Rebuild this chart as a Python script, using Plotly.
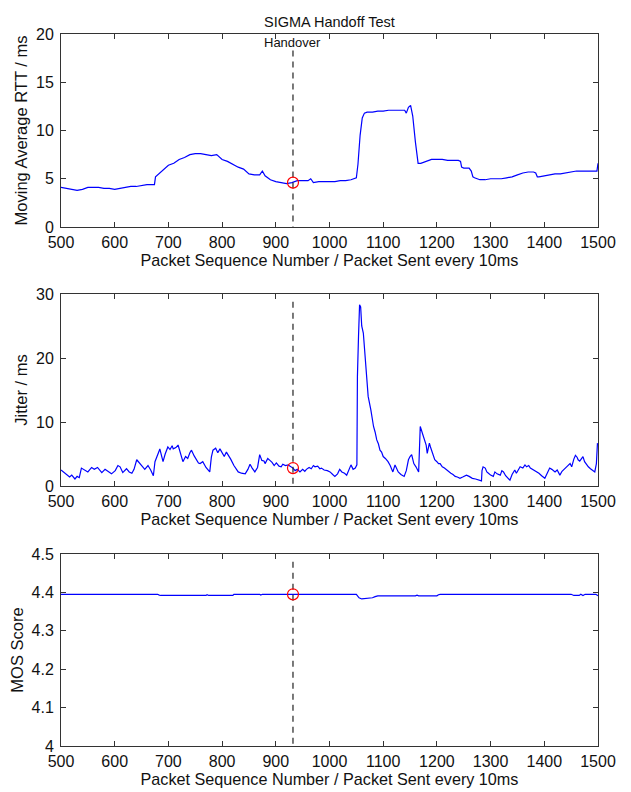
import plotly.graph_objects as go

# ---------------- data ----------------
rtt_x = [500, 510, 520, 530, 540, 550, 560, 570, 580, 590, 600, 610, 620, 630, 640, 650, 660, 670, 674, 676,
         680, 690, 700, 710, 720, 730, 740, 750, 760, 770, 780, 790, 800, 810, 820, 830, 840, 850, 860, 870,
         875, 880, 890, 900, 910, 920, 930, 940, 950, 960, 965, 970, 980, 990, 1000, 1010, 1020, 1030, 1040,
         1050, 1053, 1057, 1061, 1065, 1070, 1080, 1090, 1100, 1110, 1120, 1130, 1140, 1143, 1147, 1151, 1155,
         1160, 1165, 1170, 1180, 1190, 1200, 1210, 1220, 1230, 1240, 1244, 1246, 1250, 1260, 1264, 1267, 1270,
         1280, 1290, 1300, 1310, 1320, 1330, 1340, 1350, 1360, 1370, 1380, 1384, 1387, 1390, 1400, 1410, 1420,
         1430, 1440, 1450, 1460, 1470, 1480, 1490, 1498, 1500]
rtt_y = [4.1, 4.0, 3.9, 3.8, 3.9, 4.1, 4.1, 4.1, 4.0, 4.0, 3.9, 4.0, 4.1, 4.2, 4.2, 4.3, 4.4, 4.4, 4.4, 5.2,
         5.4, 5.9, 6.4, 6.6, 7.0, 7.2, 7.5, 7.6, 7.6, 7.5, 7.4, 7.5, 7.0, 6.8, 6.5, 6.2, 6.0, 5.5, 5.4, 5.4,
         5.8, 5.3, 4.9, 4.7, 4.6, 4.5, 4.6, 4.8, 4.8, 4.8, 5.0, 4.6, 4.7, 4.7, 4.7, 4.7, 4.8, 4.8, 4.9,
         5.1, 6.5, 9.5, 11.3, 11.8, 11.9, 11.9, 12.0, 12.0, 12.1, 12.1, 12.1, 12.1, 11.8, 12.4, 12.6, 11.5,
         8.8, 6.6, 6.6, 6.8, 7.0, 7.0, 7.0, 6.9, 6.9, 6.9, 6.8, 6.2, 6.1, 6.1, 5.8, 5.2, 5.1,
         4.9, 4.9, 5.0, 5.0, 5.0, 5.1, 5.2, 5.4, 5.6, 5.7, 5.7, 5.6, 5.2, 5.2, 5.3, 5.4, 5.5,
         5.5, 5.6, 5.7, 5.8, 5.8, 5.8, 5.8, 5.8, 6.6]

jit_x = [500, 504, 510, 516, 520, 526, 530, 534, 538, 544, 550, 557, 562, 568, 572, 576, 582, 588, 594, 601,
         606, 610, 615, 622, 627, 632, 636, 641, 646, 651, 656, 662, 667, 672, 675, 678, 682, 684, 688, 690,
         694, 699, 703, 707, 709, 714, 718, 722, 727, 732, 736, 740, 743, 748, 752, 756, 759, 764, 770, 777,
         780, 783, 788, 792, 796, 800, 804, 808, 811, 816, 822, 830, 836, 843, 848, 852, 856, 861, 866, 870,
         874, 878, 880, 885, 889, 893, 897, 901, 906, 910, 913, 918, 923, 928, 932, 936, 940, 945, 950, 954,
         957, 962, 966, 970, 973, 978, 982, 985, 990, 996, 1001, 1006, 1010, 1015, 1019, 1023, 1028, 1032,
         1036, 1040, 1044, 1048, 1051, 1052, 1054, 1056, 1058, 1060, 1063, 1066, 1069, 1072, 1077, 1080, 1082,
         1085, 1088, 1091, 1094, 1097, 1100, 1104, 1109, 1113, 1118, 1122, 1125, 1128, 1133, 1139, 1143, 1147,
         1150, 1153, 1155, 1157, 1161, 1166, 1169, 1171, 1173, 1176, 1178, 1180, 1182, 1184, 1186, 1188, 1190,
         1193, 1196, 1200, 1203, 1206, 1210, 1214, 1218, 1222, 1226, 1230, 1234, 1238, 1243, 1248, 1255, 1260,
         1266, 1272, 1278, 1283, 1284, 1286, 1290, 1293, 1296, 1300, 1305, 1308, 1312, 1318, 1321, 1324, 1328,
         1332, 1336, 1340, 1345, 1348, 1352, 1355, 1360, 1364, 1367, 1371, 1374, 1378, 1382, 1386, 1390, 1395,
         1401, 1405, 1410, 1414, 1417, 1420, 1424, 1429, 1433, 1436, 1439, 1443, 1448, 1451, 1455, 1458, 1461,
         1463, 1466, 1469, 1472, 1475, 1479, 1482, 1486, 1490, 1494, 1497, 1499]
jit_y = [2.5, 2.2, 1.8, 1.4, 1.7, 1.1, 1.5, 1.3, 2.8, 2.5, 2.2, 2.9, 2.6, 2.9, 2.4, 2.1, 2.6, 2.3, 1.9, 2.4,
         3.2, 3.0, 2.1, 2.7, 2.2, 2.0, 2.6, 4.1, 3.5, 3.1, 2.6, 3.2, 2.5, 1.6, 3.8, 4.6, 5.3, 5.8, 4.5, 3.8,
         5.0, 6.1, 5.7, 6.3, 5.8, 6.0, 6.4, 5.4, 3.8, 4.6, 4.3, 5.2, 5.6, 4.7, 4.2, 3.6, 3.5, 3.8, 2.9, 2.2,
         4.5, 5.6, 5.9, 5.2, 5.8, 5.1, 4.6, 5.3, 4.9, 4.2, 3.2, 2.2, 2.0, 1.9, 2.6, 3.4, 2.8, 2.2, 2.9, 4.9,
         4.0, 3.9, 3.5, 4.3, 4.0, 3.7, 3.2, 3.6, 3.1, 3.0, 3.4, 3.2, 3.3, 3.0, 2.8, 2.4, 2.6, 2.2, 2.6, 2.3,
         2.6, 2.9, 2.7, 3.2, 3.0, 3.1, 2.7, 2.8, 2.5, 2.4, 2.2, 1.8, 1.5, 1.9, 2.6, 2.2, 2.0, 1.7,
         2.4, 3.3, 2.6, 2.8, 3.3, 17.1, 23.3, 28.3, 28.0, 25.0, 23.9, 20.2, 17.1, 14.0, 11.9, 10.2, 9.3,
         8.4, 7.2, 6.6, 5.6, 5.3, 4.6, 4.3, 3.8, 3.2, 2.2, 3.3, 2.6, 2.2, 1.8, 1.5, 2.4, 4.1,
         4.6, 4.9, 4.2, 3.5, 3.0, 2.2, 9.3, 8.8, 8.2, 7.5, 6.9, 6.4, 5.1, 6.3, 6.7, 6.1, 5.6,
         4.8, 4.1, 3.8, 3.5, 3.5, 3.0, 2.8, 2.5, 2.3, 2.0, 1.8, 1.5, 1.4, 1.2, 1.4, 1.7, 1.5,
         1.2, 1.1, 1.0, 0.8, 2.4, 3.0, 2.8, 2.2, 2.0, 1.7, 1.5, 2.2, 1.9, 1.7, 2.4, 2.2, 1.6,
         1.3, 0.9, 1.8, 2.5, 2.0, 2.6, 3.0, 2.8, 3.3, 3.0, 3.2, 2.8, 2.6, 2.5, 2.2, 2.0, 1.6,
         1.2, 1.9, 2.8, 2.6, 2.4, 2.2, 2.5, 1.7, 2.3, 2.5, 2.8, 3.1, 3.5, 3.0, 4.2, 4.8, 4.5,
         4.1, 3.9, 4.3, 4.6, 3.8, 3.3, 3.0, 2.7, 2.4, 2.2, 3.5, 6.7]

mos_x = [500, 680, 683, 686, 770, 772, 775, 820, 822, 870, 872, 875, 1050, 1055, 1060, 1070, 1080, 1085,
         1090, 1160, 1163, 1166, 1200, 1203, 1206, 1450, 1455, 1465, 1468, 1472, 1476, 1480, 1496, 1500]
mos_y = [4.395, 4.395, 4.393, 4.392, 4.392, 4.394, 4.392, 4.392, 4.395, 4.395, 4.393, 4.395, 4.395, 4.386,
         4.383, 4.384, 4.386, 4.389, 4.391, 4.391, 4.393, 4.391, 4.391, 4.394, 4.395, 4.395, 4.392, 4.392,
         4.395, 4.392, 4.395, 4.395, 4.395, 4.391]

handover_x = 932
handover_rtt = 4.6
handover_jit = 2.8
handover_mos = 4.395

title_text = "SIGMA Handoff Test"
x_title = "Packet Sequence Number / Packet Sent every 10ms"
y_titles = ["Moving Average RTT / ms", "Jitter / ms", "MOS Score"]
y_ranges = [[0, 20], [0, 30], [4, 4.5]]
y_dticks = [5, 10, 0.1]
dash_tops = [18.3, 28.8, 4.48]

# ---------------- figure ----------------
# the page body has an 8px margin, so the figure is 8px smaller and all pixel positions shift by 8
OFF = 8
W, H = 631 - OFF, 792 - OFF
FONT = "Liberation Sans, Arial, sans-serif"
BLUE = "#0000ff"
TXT = "#111111"

fig = go.Figure()
series = [(rtt_x, rtt_y, handover_rtt), (jit_x, jit_y, handover_jit), (mos_x, mos_y, handover_mos)]
for i, (xs, ys, hv) in enumerate(series):
    sfx = "" if i == 0 else str(i + 1)
    fig.add_trace(go.Scatter(x=xs, y=ys, mode="lines", line=dict(color=BLUE, width=1.2),
                             xaxis="x" + sfx, yaxis="y" + sfx, showlegend=False))
    fig.add_trace(go.Scatter(x=[handover_x, handover_x], y=[dash_tops[i], y_ranges[i][0]], mode="lines",
                             line=dict(color="#222222", width=1.2, dash="6px,5px"),
                             xaxis="x" + sfx, yaxis="y" + sfx, showlegend=False))
    fig.add_trace(go.Scatter(x=[handover_x], y=[hv], mode="markers",
                             marker=dict(symbol="circle-open", color="red", size=11, line=dict(width=1.2)),
                             xaxis="x" + sfx, yaxis="y" + sfx, showlegend=False))

# pixel boxes (in the screenshot) of the three plot areas (top, bottom)
boxes = [(34, 227), (294, 486), (554, 746)]
L, R = 61, 598

axis_common = dict(showline=True, linecolor="#333333", linewidth=1, mirror="ticks", ticks="inside",
                   ticklen=5, tickcolor="#333333", showgrid=False, zeroline=False, automargin=False,
                   tickfont=dict(family=FONT, size=16, color=TXT))
layout = dict(width=W, height=H, margin=dict(l=0, r=0, t=0, b=0), plot_bgcolor="white",
              paper_bgcolor="white", showlegend=False)
for i, (top, bot) in enumerate(boxes):
    sfx = "" if i == 0 else str(i + 1)
    layout["xaxis" + sfx] = dict(axis_common, domain=[(L - OFF) / W, (R - OFF) / W], range=[500, 1500],
                                 dtick=100, tick0=500, anchor="y" + sfx, ticklabelstandoff=1,
                                 title=dict(text=x_title, font=dict(family=FONT, size=16.2, color=TXT),
                                            standoff=1))
    layout["yaxis" + sfx] = dict(axis_common, domain=[1 - (bot - OFF) / H, 1 - (top - OFF) / H],
                                 range=y_ranges[i], dtick=y_dticks[i], tick0=y_ranges[i][0], anchor="x" + sfx,
                                 ticklabelstandoff=3,
                                 title=dict(text=y_titles[i], font=dict(family=FONT, size=16.5, color=TXT),
                                            standoff=4))
fig.update_layout(**layout)

fig.add_annotation(text=title_text, x=((L + R) / 2 - OFF) / W, y=1 - (12 - OFF) / H, xref="paper", yref="paper",
                   showarrow=False, font=dict(family=FONT, size=14.5, color=TXT))
fig.add_annotation(text="Handover", x=handover_x, y=19.1, xref="x", yref="y", showarrow=False,
                   font=dict(family=FONT, size=13, color=TXT))

fig.write_html("out.html")
